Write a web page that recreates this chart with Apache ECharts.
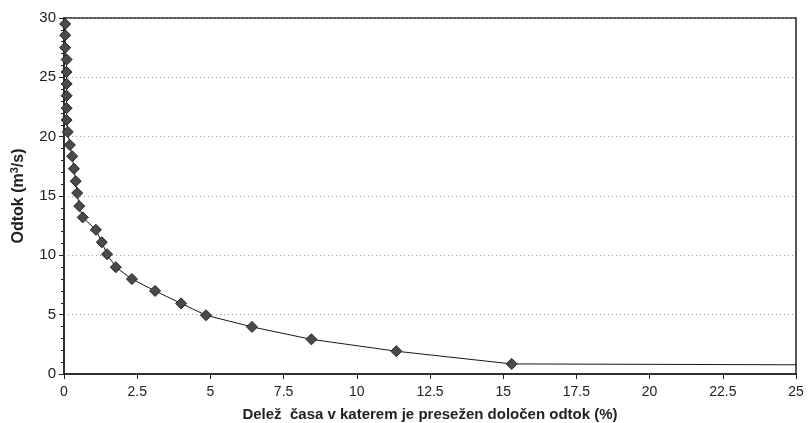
<!DOCTYPE html>
<html>
<head>
<meta charset="utf-8">
<script src="https://cdn.jsdelivr.net/npm/echarts@6/dist/echarts.min.js"></script>
<style>
html,body{margin:0;padding:0;background:#fff;}
#c{width:808px;height:423px;}
</style>
</head>
<body>
<div id="c"></div>
<script>
var shareX = [0.04, 0.04, 0.04, 0.09, 0.09, 0.09, 0.09, 0.09, 0.09, 0.13, 0.2, 0.28, 0.34, 0.4, 0.45, 0.52, 0.64, 1.09, 1.29, 1.47, 1.77, 2.32, 3.11, 4.0, 4.85, 6.42, 8.45, 11.35, 15.29, 100];
var flowY = [29.5, 28.55, 27.5, 26.5, 25.45, 24.45, 23.45, 22.4, 21.4, 20.4, 19.3, 18.35, 17.3, 16.25, 15.25, 14.15, 13.2, 12.15, 11.1, 10.1, 9.0, 8.0, 7.0, 5.95, 4.95, 3.97, 2.92, 1.92, 0.85, 0.2];
var xTitle = 'Delež  časa v katerem je presežen določen odtok (%)';
var yTitle = 'Odtok (m{sup|3}/s)';

var data = shareX.map(function (x, i) { return [x, flowY[i]]; });
var chart = echarts.init(document.getElementById('c'), null, {renderer: 'canvas'});
var font = 'Liberation Sans, Arial, sans-serif';
chart.setOption({
  animation: false,
  backgroundColor: '#fff',
  grid: {left: 64, right: 12, top: 18, bottom: 49, outerBoundsMode: 'none', containLabel: false, show: true, borderColor: '#222', borderWidth: 1.5, backgroundColor: 'transparent'},
  xAxis: {
    type: 'value', min: 0, max: 25, interval: 2.5,
    name: xTitle, nameLocation: 'middle', nameGap: 33,
    nameTextStyle: {fontFamily: font, fontSize: 15, fontWeight: 'bold', color: '#222'},
    axisLine: {show: true, onZero: false, lineStyle: {color: '#222', width: 1.5}},
    axisTick: {show: true, length: 5, lineStyle: {color: '#222'}},
    axisLabel: {fontFamily: font, fontSize: 14, color: '#222', margin: 11},
    splitLine: {show: false}
  },
  yAxis: {
    type: 'value', min: 0, max: 30, interval: 5,
    name: yTitle, nameLocation: 'middle', nameGap: 35, nameRotate: 90,
    nameTextStyle: {fontFamily: font, fontSize: 16, fontWeight: 'bold', color: '#222',
      rich: {sup: {fontFamily: font, fontSize: 11, fontWeight: 'bold', color: '#222', verticalAlign: 'bottom', padding: [0, 0, 9, 0]}}},
    axisLine: {show: true, onZero: false, lineStyle: {color: '#222', width: 1.5}},
    axisTick: {show: true, length: 5, lineStyle: {color: '#222'}},
    minorTick: {show: true, splitNumber: 5, length: 3, lineStyle: {color: '#222'}},
    axisLabel: {fontFamily: font, fontSize: 15, color: '#222', margin: 8},
    splitLine: {show: true, lineStyle: {color: '#999', type: [1, 3], width: 1}}
  },
  series: [{
    type: 'line',
    data: data,
    clip: false,
    symbol: 'diamond',
    symbolSize: 11,
    showAllSymbol: true,
    lineStyle: {color: '#1a1a1a', width: 1},
    itemStyle: {color: '#4a4a4a', borderColor: '#222', borderWidth: 1}
  }]
});
</script>
</body>
</html>
